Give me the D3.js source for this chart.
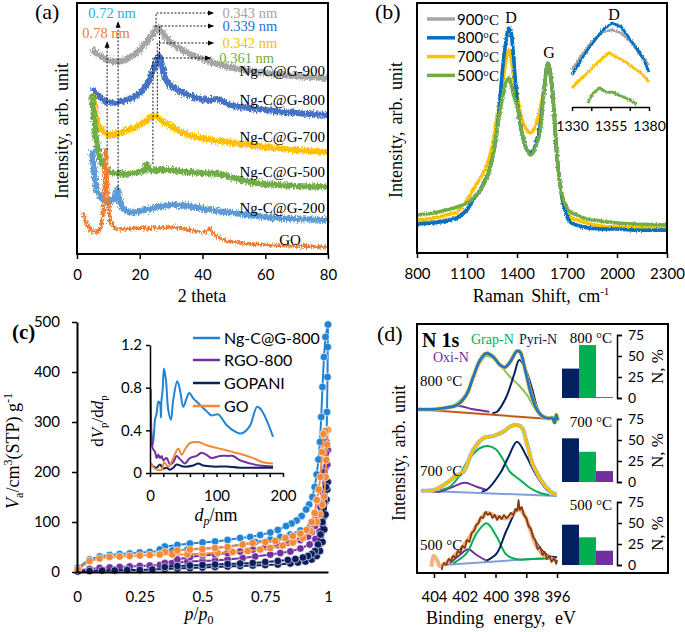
<!DOCTYPE html>
<html lang="en">
<head>
<meta charset="UTF-8">
<title>Ng-C@G characterisation panels</title>
<script src="https://d3js.org/d3.v7.min.js"></script>
<style>
  body { margin: 0; background: #fff; }
</style>
</head>
<body>
<div id="chart"></div>
<script>
// ---------- (a) XRD: [2 theta, intensity (arb.)] ----------
const xrdTicks = [0, 20, 40, 60, 80];
const xrdNames = ["Ng-C@G-900", "Ng-C@G-800", "Ng-C@G-700", "Ng-C@G-500", "Ng-C@G-200", "GO"];
const xrdColors = ["#a5a5a5", "#4472c4", "#ffc000", "#70ad47", "#5b9bd5", "#ed7d31"];
const xrd900 = [[4.8,205],[6,201],[8,197],[10,194],[12.7,192],[15,194],[18,199],[20,204],[22,211],[24,219],[25.5,227],[26.5,225],[28,218],[30,211],[33,205],[36,200],[40,195],[45,190],[50,186],[55,183],[60,181],[70,178],[80,176]];
const xrd800 = [[4.9,166],[6,160],[8,155],[10,152],[12,151],[15,153],[18,157],[20,161],[22,168],[23.5,178],[25,190],[26.2,198],[27,190],[27.8,178],[29,171],[31,166],[34,161],[38,156],[42,154],[45,155],[47,152],[50,148],[55,146],[60,144],[70,141],[80,139]];
const xrd700 = [[5.1,160],[5.6,148],[6.3,135],[7.3,126],[9,121],[10.5,119],[13,120],[15,123],[18,126],[21,131],[23,135],[24.5,138],[26,136],[28,131],[31,126],[34,121],[38,117],[43,114],[50,111],[60,107],[70,104],[80,102]];
const xrd500 = [[4.8,159],[5.3,140],[6,118],[7,100],[8.5,88],[10,83],[12,81],[15,80],[18,81],[21,83],[22.3,90],[23,84],[26,84],[30,84],[35,82],[40,81],[45,80],[50,76],[55,72],[60,70],[70,68],[80,67]];
const xrd200 = [[4.8,104],[5.2,90],[5.7,75],[6.3,64],[7.5,57],[8.5,54],[10.5,52],[12,57],[12.8,64],[13.5,55],[14.3,47],[16,42],[20,43],[23,45],[27,48],[31,49],[35,48],[39,46],[45,43],[50,41],[60,37],[70,35],[80,34]];
const xrdGO = [[1.9,42],[2.5,34],[3.2,29],[4.5,24],[6.3,22],[7.5,26],[8.2,38],[8.7,60],[9.2,104],[9.7,70],[10.2,45],[10.8,31],[12,26],[15,25],[20,26],[25,26],[30,27],[33,26],[36,24],[40,22],[41.5,23],[42.2,26],[43,22],[45,17],[48,13],[52,11],[60,9],[70,8],[80,7]];
// d-spacing call-outs
const dSpacing = ["0.78 nm", "0.72 nm", "0.343 nm", "0.339 nm", "0.342 nm", "0.361 nm"];
const dColors = ["#ed7d31", "#29aee8", "#a5a5a5", "#1a75d1", "#ffc000", "#70ad47"];
const dTheta = [9.6, 13.1, 25.2, 26.3, 25.6, 24.2];
const dFrom = [104, 64, 227, 197, 137, 90];
const dTo = [212, 232, 241, 228, 211, 196];
const dEnd = [null, null, 43.5, 43.5, 43.5, 42.5];

// ---------- (b) Raman: [shift, intensity (arb.)] ----------
const ramanTicks = [800, 1100, 1400, 1700, 2000, 2300];
const ramanTemps = [900, 800, 700, 500];
const ramanColors = ["#a5a5a5", "#0070c0", "#ffc000", "#70ad47"];
const raman900 = [[800,30],[900,31],[1000,34],[1040,36],[1100,44],[1136,54],[1180,64],[1220,77],[1250,94],[1280,124],[1300,158],[1316,186],[1330,205],[1350,221],[1365,217],[1376,200],[1390,171],[1406,144],[1436,115],[1460,104],[1480,101],[1500,104],[1520,114],[1538,127],[1562,164],[1586,190],[1610,166],[1628,126],[1640,96],[1658,70],[1680,48],[1720,31],[1800,26],[1900,24],[2000,24],[2100,23],[2300,23]];
const raman800 = [[800,29],[900,30],[1000,33],[1040,35],[1100,43],[1136,53],[1180,63],[1220,76],[1250,93],[1280,123],[1300,158],[1316,188],[1330,208],[1350,225],[1365,220],[1376,203],[1390,173],[1406,145],[1436,115],[1460,103],[1480,100],[1500,103],[1520,113],[1538,126],[1562,163],[1586,190],[1610,166],[1628,126],[1640,96],[1658,70],[1680,48],[1720,31],[1800,26],[1900,24],[2000,24],[2100,23],[2300,23]];
const raman700 = [[800,33],[900,35],[1000,39],[1040,41],[1100,53],[1136,63],[1180,75],[1220,88],[1250,106],[1280,136],[1300,153],[1320,178],[1340,198],[1352,203],[1365,195],[1380,175],[1406,153],[1436,130],[1460,123],[1480,120],[1500,123],[1520,131],[1538,143],[1562,165],[1586,190],[1610,165],[1628,125],[1640,95],[1658,68],[1680,48],[1720,36],[1800,31],[1900,27],[2000,26],[2300,25]];
const raman500 = [[800,38],[900,40],[1000,44],[1040,46],[1100,50],[1136,55],[1180,63],[1220,75],[1250,93],[1280,123],[1300,143],[1320,161],[1340,173],[1352,175],[1365,168],[1380,158],[1406,143],[1436,115],[1460,103],[1480,98],[1500,101],[1520,110],[1538,120],[1562,161],[1586,190],[1610,166],[1628,126],[1640,96],[1658,70],[1680,53],[1720,41],[1760,38],[1800,35],[1900,32],[2000,30],[2300,28]];
// inset: D band close-up
const insetTicks = [1330, 1342.5, 1355, 1367.5, 1380];
const dBand900 = [[1330,37],[1335,49],[1340,60],[1345,69],[1350,75],[1356,77],[1362,74],[1368,65],[1372,57],[1376,49],[1380,42]];
const dBand800 = [[1330,32],[1335,45],[1340,57],[1345,67],[1350,77],[1356,84],[1362,80],[1368,67],[1372,59],[1376,49],[1380,35]];
const dBand700 = [[1330,19],[1335,27],[1340,34],[1345,42],[1350,49],[1354,54],[1360,49],[1365,45],[1370,39],[1375,34],[1380,25]];
const dBand500 = [[1340,4],[1343,12],[1346,17],[1348,19],[1352,15],[1356,15],[1360,12],[1365,9],[1370,5],[1372,2]];

// ---------- (c) N2 isotherms [p/p0, Va] and pore-size distribution [dp, dVp/ddp] ----------
const isoNames = ["Ng-C@G-800", "RGO-800", "GOPANI", "GO"];
const isoColors = ["#1f83d6", "#7030a0", "#0b1f5c", "#f28a3a"];
const isoTicksX = [0, 0.25, 0.5, 0.75, 1];
const isoTicksY = [0, 100, 200, 300, 400, 500];
const adsNgC = [[0.003,8],[0.05,25],[0.09,31],[0.13,34],[0.17,36],[0.21,37],[0.25,39],[0.29,40],[0.33,42],[0.38,43],[0.44,45],[0.5,47],[0.55,48],[0.6,51],[0.66,55],[0.71,60],[0.77,65],[0.81,70],[0.85,75],[0.89,83],[0.93,92],[0.955,105],[0.97,120],[0.982,140],[0.988,165],[0.992,210],[0.994,260],[0.996,320],[0.998,390],[0.999,450],[1.0,495]];
const desNgC = [[1.0,495],[0.99,470],[0.984,430],[0.978,370],[0.973,310],[0.968,260],[0.962,225],[0.955,195],[0.947,170],[0.938,150],[0.925,135],[0.913,125],[0.895,112],[0.875,103],[0.855,97],[0.833,92],[0.8,84],[0.77,79],[0.73,74],[0.69,70],[0.65,68],[0.6,64],[0.55,61],[0.5,59],[0.45,57],[0.4,54],[0.35,51],[0.33,45]];
const adsRGO = [[0.003,3],[0.05,6],[0.09,8],[0.13,9],[0.17,10],[0.21,11],[0.25,12],[0.29,13],[0.33,14],[0.38,17],[0.44,21],[0.5,22],[0.55,23],[0.6,25],[0.66,28],[0.71,31],[0.77,35],[0.81,38],[0.85,41],[0.89,47],[0.927,55],[0.95,66],[0.967,81],[0.978,95],[0.985,111],[0.99,140],[0.994,180],[0.997,215],[0.999,244]];
const desRGO = [[0.999,244],[0.992,238],[0.985,200],[0.978,160],[0.97,130],[0.96,105],[0.948,92],[0.935,80],[0.92,71],[0.89,64],[0.86,60],[0.84,59],[0.8,54],[0.75,50],[0.7,45],[0.65,41],[0.6,38],[0.55,35],[0.5,33],[0.45,30],[0.4,25],[0.35,18]];
const adsGOPANI = [[0.003,1],[0.05,2],[0.1,3],[0.15,3],[0.2,4],[0.25,4],[0.3,5],[0.35,6],[0.4,7],[0.45,8],[0.5,9],[0.55,10],[0.6,11],[0.65,12],[0.7,13],[0.75,14],[0.8,15],[0.85,17],[0.88,19],[0.91,21],[0.935,25],[0.955,32],[0.968,42],[0.978,60],[0.985,85],[0.99,115],[0.994,145],[0.997,165],[0.999,180]];
const desGOPANI = [[0.999,180],[0.992,170],[0.985,140],[0.978,100],[0.97,75],[0.96,55],[0.948,42],[0.935,36],[0.92,32],[0.9,29],[0.87,26],[0.84,24],[0.8,22],[0.75,20],[0.7,18],[0.65,17],[0.6,16],[0.55,15],[0.5,14],[0.45,13],[0.4,12],[0.35,10]];
const adsGO = [[0.003,5],[0.05,22],[0.09,27],[0.13,30],[0.17,31],[0.21,32],[0.25,33],[0.29,34],[0.33,35],[0.38,35],[0.44,35],[0.5,37],[0.56,38],[0.62,40],[0.68,42],[0.73,45],[0.77,48],[0.82,53],[0.86,59],[0.9,68],[0.93,82],[0.955,100],[0.968,115],[0.978,135],[0.985,151],[0.99,190],[0.993,224],[0.996,255],[0.999,284]];
const desGO = [[0.999,284],[0.99,282],[0.982,276],[0.976,240],[0.97,190],[0.963,165],[0.955,144],[0.947,118],[0.935,100],[0.915,84],[0.89,77],[0.86,72],[0.83,68],[0.79,62],[0.75,60],[0.7,58],[0.66,55],[0.6,50],[0.55,48],[0.5,46],[0.45,45],[0.4,43],[0.35,40],[0.33,35]];
const psdTicksX = [0, 20, 40, 60, 80, 100, 120, 140, 160, 180, 200];
const psdTicksY = [0, 0.4, 0.8, 1.2];
const psdNgC = [[1.5,0.41],[4,0.26],[6,0.37],[7.5,0.5],[10,0.56],[12.5,0.67],[15,0.65],[16.5,0.52],[17,0.66],[19,0.78],[21,0.98],[24,0.87],[27.5,0.59],[31.5,0.5],[35,0.69],[41,0.86],[45,0.78],[50,0.62],[55,0.7],[59,0.75],[65,0.7],[75,0.64],[85,0.58],[92.5,0.54],[102.5,0.55],[115,0.45],[127.5,0.39],[137.5,0.37],[150,0.44],[161,0.62],[167.5,0.59],[175,0.5],[185,0.34]];
const psdRGO = [[1,0.79],[2.5,0.31],[4,0.23],[7.5,0.2],[10,0.14],[12.5,0.17],[15,0.14],[17.5,0.16],[20,0.12],[25,0.14],[30,0.08],[35,0.1],[40,0.16],[45,0.13],[52.5,0.09],[60,0.14],[70,0.16],[77.5,0.19],[85,0.17],[92.5,0.14],[105,0.16],[117.5,0.16],[125,0.16],[135,0.12],[150,0.09],[165,0.07],[185,0.06]];
const psdGOPANI = [[1,0.09],[5,0.06],[10,0.05],[15,0.08],[20,0.04],[25,0.05],[30,0.03],[35,0.05],[40,0.08],[50,0.06],[65,0.07],[72.5,0.09],[80,0.07],[95,0.06],[115,0.06],[135,0.05],[185,0.05]];
const psdGO = [[1.5,0.09],[7.5,0.04],[17.5,0.03],[21,0.1],[27.5,0.06],[35,0.14],[42.5,0.23],[47.5,0.17],[52.5,0.22],[60,0.28],[72.5,0.29],[85,0.26],[110,0.22],[135,0.18],[155,0.14],[170,0.1],[185,0.09]];

// ---------- (d) XPS N 1s: [binding energy, intensity (arb.)] ----------
const xpsTicks = [404, 402, 400, 398, 396];
const nTypes = ["Pyri-N", "Grap-N", "Oxi-N"];
const nColors = ["#002060", "#00b050", "#7030a0"];
const nTemps = ["800 °C", "700 °C", "500 °C"];
const nTicks = [0, 25, 50, 75];
const nShare800 = [35, 63, 1];
const nShare700 = [52, 36, 13];
const nShare500 = [48, 33, 17];
// 800 °C
const fit800 = [[405.05,163.7],[404,163.7],[403.2,165.3],[402.5,168],[401.9,178],[401.45,196],[401.0,213],[400.6,219.7],[400.14,216],[399.7,208],[399.4,205.7],[399.05,211],[398.6,222],[398.4,221],[398.07,203],[397.7,179.7],[397.3,163],[396.9,156.3],[396.5,154.7],[396.3,155],[396.15,150],[396.05,158],[395.95,153]];
const base800 = [[405.05,163.7],[396.2,153.7]];
const grap800 = [[403.5,164.5],[403.2,165],[402.5,170],[401.9,180],[401.45,196],[401.0,210],[400.6,217],[400.2,215],[399.7,208],[399.05,196],[398.5,188],[397.95,178],[397.5,166],[396.9,157],[396.4,154.5]];
const pyri800 = [[400.2,160],[399.9,161.3],[399.3,176],[398.8,198],[398.45,213],[398.07,204.7],[397.6,183],[397.3,166],[397.0,158],[396.7,156]];
const oxi800 = [[404.2,163.5],[403.85,164],[402.4,167],[401.45,163.7],[400.4,161.3]];
// 700 °C
const fit700 = [[404.72,82.3],[404,83],[403.2,89.7],[402.5,98],[402.1,101],[401.45,123],[400.8,134.7],[400.14,137],[399.5,141.3],[399.05,146.3],[398.7,148],[398.3,145.7],[397.96,129.7],[397.6,109.7],[397.3,100],[396.9,89.7],[396.4,81.3],[396,78]];
const base700 = [[404.72,82.3],[396,77]];
const grap700 = [[403.6,83],[403,86],[402.4,96],[401.9,110],[401.45,119],[401,125],[400.5,127],[400,124],[399.6,116],[399.05,101],[398.4,93],[397.75,85],[397.1,80],[396.5,78]];
const pyri700 = [[400.9,81.5],[400.58,83],[399.7,99.7],[399.16,116],[398.6,131.3],[397.96,116],[397.42,99.7],[396.65,83],[396.2,79]];
const oxi700 = [[404.2,82],[403.63,81.3],[402.76,86.3],[402.0,90.3],[401.23,86.3],[400.58,83]];
// 500 °C
const fit500 = [[404.17,6.3],[404.02,17],[403.8,13],[403.63,7],[403.41,8],[402.98,13],[402.32,23],[401.67,36.3],[401.01,53],[400.58,60.3],[399.92,56.3],[399.27,54.7],[398.83,59.7],[398.51,63.7],[398.18,59.7],[397.74,43],[397.31,26.3],[396.87,18],[396.44,14.7],[396,13]];
const raw500 = [[403.5,3],[403.35,10],[403.2,8],[403.05,14],[402.9,12],[402.75,17],[402.6,15],[402.45,22],[402.3,20],[402.15,27],[402.0,25],[401.85,33],[401.7,31],[401.55,40],[401.4,42],[401.25,48],[401.1,50],[400.95,56],[400.8,55],[400.65,61],[400.5,58],[400.35,60],[400.2,55],[400.05,58],[399.9,53],[399.75,57],[399.6,54],[399.45,58],[399.3,55],[399.15,57],[399.0,60],[398.85,58],[398.7,64],[398.6,62],[398.5,73],[398.42,63],[398.3,66],[398.15,58],[398.0,55],[397.85,47],[397.7,44],[397.55,36],[397.4,32],[397.25,24],[397.1,26],[396.95,18],[396.8,21],[396.65,14],[396.5,17],[396.35,11],[396.2,15],[396.05,9],[396.0,13]];
const base500 = [[403.41,8],[396,15.7]];
const grap500 = [[402.76,9.7],[401.89,19.7],[401.23,39.7],[400.58,49.7],[399.92,36.3],[399.27,18],[398.61,13.7],[397.5,14],[396,15]];
const pyri500 = [[400.58,12.3],[399.92,19.7],[399.27,43],[398.51,63.7],[397.96,53],[397.31,29.7],[396.65,18],[396,15.7]];
const oxi500 = [[402.98,9.7],[402.32,18],[401.78,23.7],[401.23,18],[400.58,12.3]];

// ================= drawing =================
const SANS = "Lato, 'Open Sans', sans-serif";
const SERIF = "'Liberation Serif', 'Times New Roman', serif";

const svg = d3.select("#chart").append("svg")
  .attr("width", 685).attr("height", 632)
  .attr("font-family", SERIF);
svg.append("rect").attr("width", 685).attr("height", 632).attr("fill", "#fff");

const defs = svg.append("defs");
function roughen(id, freq, amount) {
  const f = defs.append("filter").attr("id", id)
    .attr("filterUnits", "userSpaceOnUse")
    .attr("x", 0).attr("y", 0).attr("width", 685).attr("height", 632);
  f.append("feTurbulence").attr("type", "fractalNoise")
    .attr("baseFrequency", freq).attr("numOctaves", 2).attr("seed", 7).attr("result", "n");
  f.append("feDisplacementMap").attr("in", "SourceGraphic").attr("in2", "n")
    .attr("scale", amount).attr("xChannelSelector", "R").attr("yChannelSelector", "G");
}
roughen("noisyA", "1.2 0.35", 7);
roughen("noisyB", "1.2 0.4", 3);
defs.append("marker").attr("id", "arrow")
  .attr("viewBox", "0 0 10 10").attr("refX", 9).attr("refY", 5)
  .attr("markerWidth", 7).attr("markerHeight", 7).attr("orient", "auto")
  .append("path").attr("d", "M0,1L10,5L0,9z").attr("fill", "#000");

function dressAxis(g, fs) {
  g.attr("font-family", SANS).attr("font-size", fs);
  g.selectAll(".tick line").attr("stroke", "#000").attr("stroke-width", 1.5);
  g.selectAll(".tick text").attr("fill", "#000");
  g.select(".domain").attr("stroke", "#000").attr("stroke-width", 2);
}
function frame(x, y) {
  svg.append("rect")
    .attr("x", x.range()[0]).attr("y", Math.min(...y.range()))
    .attr("width", x.range()[1] - x.range()[0])
    .attr("height", Math.abs(y.range()[0] - y.range()[1]))
    .attr("fill", "none").attr("stroke", "#000").attr("stroke-width", 2);
}
function panelLabel(txt, x, y, bold) {
  svg.append("text").attr("x", x).attr("y", y).attr("font-size", bold ? 21 : 22)
    .attr("font-weight", bold ? "bold" : "normal").text(txt);
}
function yTitle(x, y, txt) {
  svg.append("text").attr("transform", `translate(${x},${y}) rotate(-90)`)
    .attr("text-anchor", "middle").attr("font-size", 18).attr("word-spacing", 2.5).text(txt);
}

// ---------------- (a) ----------------
const xA = d3.scaleLinear().domain([0, 80]).range([77, 328]);
const yA = d3.scaleLinear().domain([0, 251]).range([254, 3]);
const lineA = d3.line().x(d => xA(d[0])).y(d => yA(d[1])).curve(d3.curveCatmullRom);
const gA = svg.append("g").attr("filter", "url(#noisyA)");
[xrd900, xrd800, xrd700, xrd500, xrd200, xrdGO].forEach((s, i) => {
  gA.append("path").datum(s).attr("d", lineA).attr("fill", "none")
    .attr("stroke", xrdColors[i]).attr("stroke-width", i === 5 ? 3.5 : 6)
    .attr("stroke-linejoin", "round");
});
frame(xA, yA);
const axA = svg.append("g").attr("transform", `translate(0,${yA(0)})`)
  .call(d3.axisBottom(xA).tickValues(xrdTicks).tickSize(5).tickSizeOuter(0).tickPadding(10));
axA.select(".domain").remove();
dressAxis(axA, 15);
svg.append("text").attr("x", 202).attr("y", 302).attr("text-anchor", "middle")
  .attr("font-size", 18).text("2 theta");
yTitle(68, 131, "Intensity, arb. unit");
panelLabel("(a)", 35, 19);

// curve names
const xrdLabelY = [76, 105, 142, 177, 213];
xrdNames.slice(0, 5).forEach((n, i) => {
  svg.append("text").attr("x", 325).attr("y", xrdLabelY[i]).attr("text-anchor", "end")
    .attr("font-size", 15).text(n);
});
svg.append("text").attr("x", 290).attr("y", 245).attr("text-anchor", "middle")
  .attr("font-size", 15).text(xrdNames[5]);

// d-spacing call-outs
dSpacing.forEach((lab, i) => {
  const x0 = xA(dTheta[i]), y0 = yA(dFrom[i]), y1 = yA(dTo[i]);
  const path = dEnd[i] === null
    ? `M${x0},${y0}V${y1}`
    : `M${x0},${y0}V${y1}H${xA(dEnd[i])}`;
  svg.append("path").attr("d", path).attr("fill", "none")
    .attr("stroke", "#000").attr("stroke-width", 0.9).attr("stroke-dasharray", "2,1.6")
    .attr("marker-end", "url(#arrow)");
  const t = svg.append("text").attr("font-size", 14.5).attr("fill", dColors[i]).text(lab);
  if (dEnd[i] === null) {
    t.attr("x", x0 - (i === 0 ? 1 : 6)).attr("y", y1 - 4.5).attr("text-anchor", "middle");
  } else {
    t.attr("x", xA(dEnd[i]) + 9).attr("y", y1 + 4.5);
  }
});

// ---------------- (b) ----------------
const xB = d3.scaleLinear().domain([800, 2300]).range([417, 667]);
const yB = d3.scaleLinear().domain([0, 250]).range([253, 3]);
const lineB = d3.line().x(d => xB(d[0])).y(d => yB(d[1])).curve(d3.curveCatmullRom);
const gB = svg.append("g").attr("filter", "url(#noisyB)");
const ramanSeries = [raman900, raman800, raman700, raman500];
[0, 2, 1, 3].forEach(i => {
  gB.append("path").datum(ramanSeries[i]).attr("d", lineB).attr("fill", "none")
    .attr("stroke", ramanColors[i]).attr("stroke-width", 3.5);
});
frame(xB, yB);
const axB = svg.append("g").attr("transform", `translate(0,${yB(0)})`)
  .call(d3.axisBottom(xB).tickValues(ramanTicks).tickSize(5).tickSizeOuter(0).tickPadding(10)
    .tickFormat(d3.format("d")));
axB.select(".domain").remove();
dressAxis(axB, 15);
const rt = svg.append("text").attr("x", 541).attr("y", 302).attr("text-anchor", "middle")
  .attr("font-size", 18).attr("word-spacing", 3);
rt.append("tspan").text("Raman Shift, cm");
rt.append("tspan").attr("font-size", 11).attr("dy", -7).text("-1");
yTitle(402, 130, "Intensity, arb. unit");
panelLabel("(b)", 375, 19);
svg.append("text").attr("x", 511).attr("y", 23).attr("text-anchor", "middle").attr("font-size", 16).text("D");
svg.append("text").attr("x", 549).attr("y", 58).attr("text-anchor", "middle").attr("font-size", 16).text("G");

// legend
ramanTemps.forEach((t, i) => {
  const ly = 19 + i * 18.8;
  svg.append("line").attr("x1", 427).attr("x2", 455).attr("y1", ly).attr("y2", ly)
    .attr("stroke", ramanColors[i]).attr("stroke-width", 3.5);
  const tx = svg.append("text").attr("x", 457).attr("y", ly + 5.5).attr("font-size", 15);
  tx.append("tspan").attr("font-family", SANS).text(t);
  tx.append("tspan").attr("font-size", 15).text("°C");
});

// inset (D band)
const xBi = d3.scaleLinear().domain([1330, 1380]).range([572, 649]);
const yBi = d3.scaleLinear().domain([0, 100]).range([107, 7]);
const lineBi = d3.line().x(d => xBi(d[0])).y(d => yBi(d[1])).curve(d3.curveLinear);
const gBi = svg.append("g").attr("filter", "url(#noisyB)");
[dBand900, dBand800, dBand700, dBand500].forEach((s, i) => {
  gBi.append("path").datum(s).attr("d", lineBi).attr("fill", "none")
    .attr("stroke", ramanColors[i]).attr("stroke-width", 2.8);
});
const axBi = svg.append("g").attr("transform", `translate(0,${yBi(0)})`)
  .call(d3.axisBottom(xBi).tickValues(insetTicks).tickSize(4).tickSizeOuter(0).tickPadding(10)
    .tickFormat(d => Number.isInteger(d) ? d : ""));
dressAxis(axBi, 14);
axBi.select(".domain").attr("stroke-width", 1.5);
svg.append("text").attr("x", 614).attr("y", 20).attr("text-anchor", "middle").attr("font-size", 16).text("D");

// ---------------- (c) ----------------
const xC = d3.scaleLinear().domain([0, 1]).range([77, 328]);
const yC = d3.scaleLinear().domain([0, 500]).range([572, 322]);
const isoLine = d3.line().x(d => xC(d[0])).y(d => yC(d[1]));
const isoSets = [[adsNgC, desNgC, 0], [adsRGO, desRGO, 1], [adsGOPANI, desGOPANI, 2], [adsGO, desGO, 3]];
const gC = svg.append("g");
isoSets.forEach(([ads, des, k]) => {
  [ads, des].forEach(branch => {
    gC.append("path").datum(branch).attr("d", isoLine).attr("fill", "none")
      .attr("stroke", isoColors[k]).attr("stroke-width", 2);
    gC.append("g").selectAll("circle").data(branch).join("circle")
      .attr("cx", d => xC(d[0])).attr("cy", d => yC(d[1])).attr("r", 3.8)
      .attr("fill", isoColors[k]).attr("stroke", "#fff").attr("stroke-width", 0.6);
  });
});
const axCx = svg.append("g").attr("transform", `translate(0,${yC(0)})`)
  .call(d3.axisBottom(xC).tickValues(isoTicksX).tickSize(0).tickPadding(19).tickFormat(d => String(d)));
dressAxis(axCx, 15);
const axCy = svg.append("g").attr("transform", `translate(${xC(0)},0)`)
  .call(d3.axisLeft(yC).tickValues(isoTicksY).tickSize(5).tickSizeOuter(0).tickPadding(12));
dressAxis(axCy, 15);
panelLabel("(c)", 12, 339, true);
// x title p/p0
const pt = svg.append("text").attr("x", 199).attr("y", 620).attr("text-anchor", "middle").attr("font-size", 18);
pt.append("tspan").attr("font-style", "italic").text("p");
pt.append("tspan").text("/");
pt.append("tspan").attr("font-style", "italic").text("p");
pt.append("tspan").attr("font-size", 12).attr("dy", 4).text("0");
// y title Va/cm3(STP) g-1
const vt = svg.append("text").attr("transform", "translate(19,451) rotate(-90)")
  .attr("text-anchor", "middle").attr("font-size", 18);
vt.append("tspan").attr("font-style", "italic").text("V");
vt.append("tspan").attr("font-size", 12).attr("dy", 4).text("a");
vt.append("tspan").attr("dy", -4).text("/cm");
vt.append("tspan").attr("font-size", 12).attr("dy", -7).text("3");
vt.append("tspan").attr("dy", 7).text("(STP) g");
vt.append("tspan").attr("font-size", 12).attr("dy", -7).text("-1");

// inset PSD
const xCi = d3.scaleLinear().domain([0, 200]).range([150, 283]);
const yCi = d3.scaleLinear().domain([0, 1.2]).range([473, 345]);
const psdLine = d3.line().x(d => xCi(d[0])).y(d => yCi(d[1])).curve(d3.curveCatmullRom);
[psdNgC, psdRGO, psdGOPANI, psdGO].forEach((s, i) => {
  svg.append("path").datum(s).attr("d", psdLine).attr("fill", "none")
    .attr("stroke", isoColors[i]).attr("stroke-width", 2);
});
const axCix = svg.append("g").attr("transform", `translate(0,${yCi(0)})`)
  .call(d3.axisBottom(xCi).tickValues(psdTicksX).tickSize(4).tickSizeOuter(0).tickPadding(13)
    .tickFormat(d => d % 100 === 0 ? d : ""));
dressAxis(axCix, 15);
axCix.select(".domain").attr("stroke-width", 1.5);
const axCiy = svg.append("g").attr("transform", `translate(${xCi(0)},0)`)
  .call(d3.axisLeft(yCi).tickValues(psdTicksY).tickSize(4).tickSizeOuter(0).tickPadding(4)
    .tickFormat(d => d === 0 ? "0" : d.toFixed(1)));
dressAxis(axCiy, 15);
axCiy.select(".domain").attr("stroke-width", 1.5);
const dt = svg.append("text").attr("transform", "translate(103,421) rotate(-90)")
  .attr("text-anchor", "middle").attr("font-size", 17);
dt.append("tspan").text("d");
dt.append("tspan").attr("font-style", "italic").text("V");
dt.append("tspan").attr("font-size", 11).attr("dy", 4).text("p");
dt.append("tspan").attr("dy", -4).text("/d");
dt.append("tspan").attr("font-style", "italic").text("d");
dt.append("tspan").attr("font-size", 11).attr("dy", 4).text("p");
const nt = svg.append("text").attr("x", 216).attr("y", 521).attr("text-anchor", "middle").attr("font-size", 18);
nt.append("tspan").attr("font-style", "italic").text("d");
nt.append("tspan").attr("font-style", "italic").attr("font-size", 12).attr("dy", 4).text("p");
nt.append("tspan").attr("dy", -4).text("/nm");

// legend (c)
const legY = [338, 360, 383, 406];
isoNames.forEach((n, i) => {
  svg.append("line").attr("x1", 193).attr("x2", 220).attr("y1", legY[i]).attr("y2", legY[i])
    .attr("stroke", isoColors[i]).attr("stroke-width", 2.5);
  svg.append("text").attr("x", 224).attr("y", legY[i] + 5.5).attr("font-family", SANS)
    .attr("font-size", 16).text(n);
});

// ---------------- (d) ----------------
const xD = d3.scaleLinear().domain([404, 396]).range([434, 557]);
const yD = d3.scaleLinear().domain([0, 250]).range([573, 323]);
const lineD = d3.line().x(d => xD(d[0])).y(d => yD(d[1])).curve(d3.curveCatmullRom);
const gD = svg.append("g");
function trace(data, color, w, dash) {
  gD.append("path").datum(data).attr("d", lineD).attr("fill", "none")
    .attr("stroke", color).attr("stroke-width", w).attr("stroke-linejoin", "round")
    .attr("stroke-linecap", dash ? "round" : "butt")
    .attr("stroke-dasharray", dash || null);
}
// 800 °C
trace(base800, "#c55a11", 2);
trace(oxi800, "#7030a0", 2);
trace(grap800, "#8cc152", 2);
trace(pyri800, "#002060", 2);
trace(fit800, "#f5c242", 4.5, "0.5,3");
trace(fit800, "#1f77c8", 2.8);
// 700 °C
trace(base700, "#7f9fd6", 2);
trace(oxi700, "#7030a0", 2);
trace(grap700, "#00b050", 2);
trace(pyri700, "#002060", 2);
trace(fit700, "#8db8e2", 4.5, "0.5,3");
trace(fit700, "#ffc000", 2.8);
// 500 °C
trace(base500, "#7f9fd6", 2);
trace(oxi500, "#7030a0", 2);
trace(grap500, "#00b050", 2);
trace(pyri500, "#002060", 2);
trace(fit500, "#f4b183", 4);
trace(raw500, "#843c0c", 1.8);

const xDr = d3.scaleLinear().domain([0, 1]).range([417, 668]);
const yDr = d3.scaleLinear().domain([0, 1]).range([573, 324]);
frame(xDr, yDr);
const axD = svg.append("g").attr("transform", `translate(0,${yD(0)})`)
  .call(d3.axisBottom(xD).tickValues(xpsTicks).tickSize(5).tickSizeOuter(0).tickPadding(13));
axD.select(".domain").remove();
dressAxis(axD, 15);
svg.append("text").attr("x", 501).attr("y", 624).attr("text-anchor", "middle")
  .attr("font-size", 18).attr("word-spacing", 5).text("Binding energy, eV");
yTitle(405, 453, "Intensity, arb. unit");
panelLabel("(d)", 377, 341);

svg.append("text").attr("x", 422).attr("y", 347).attr("font-size", 20).attr("font-weight", "bold").text("N 1s");
svg.append("text").attr("x", 471).attr("y", 344).attr("font-size", 14).attr("fill", nColors[1]).text(nTypes[1]);
svg.append("text").attr("x", 519).attr("y", 344).attr("font-size", 14).attr("fill", nColors[0]).text(nTypes[0]);
svg.append("text").attr("x", 433).attr("y", 362).attr("font-size", 14).attr("fill", nColors[2]).text(nTypes[2]);
[386, 476, 550].forEach((y, i) => {
  svg.append("text").attr("x", 420).attr("y", y).attr("font-size", 15).text(nTemps[i]);
});

// N-type bar insets
const xBar = d3.scaleBand().domain(nTypes).range([562, 613]).padding(0);
[[nShare800, 398], [nShare700, 482], [nShare500, 565]].forEach(([vals, y0], i) => {
  const yBar = d3.scaleLinear().domain([0, 75]).range([y0, y0 - 63]);
  svg.append("g").selectAll("rect").data(vals).join("rect")
    .attr("x", (d, j) => xBar(nTypes[j])).attr("width", xBar.bandwidth())
    .attr("y", d => yBar(d)).attr("height", d => yBar(0) - yBar(d))
    .attr("fill", (d, j) => nColors[j]);
  const ax = svg.append("g").attr("transform", "translate(617,0)")
    .call(d3.axisRight(yBar).tickValues(nTicks).tickSize(5).tickPadding(6));
  dressAxis(ax, 14);
  ax.select(".domain").attr("stroke-width", 1.5).attr("fill", "none");
  svg.append("text").attr("x", 591).attr("y", yBar(75) + 8).attr("text-anchor", "middle")
    .attr("font-size", 15).text(nTemps[i]);
  svg.append("text").attr("transform", `translate(663,${yBar(37.5)}) rotate(-90)`)
    .attr("text-anchor", "middle").attr("font-size", 17).text("N, %");
});
</script>
</body>
</html>
